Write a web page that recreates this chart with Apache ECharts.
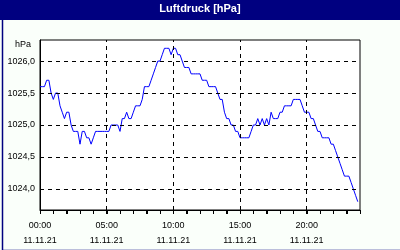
<!DOCTYPE html>
<html>
<head>
<meta charset="utf-8">
<script src="https://cdn.jsdelivr.net/npm/echarts@6/dist/echarts.min.js"></script>
<style>html,body{margin:0;padding:0;background:#fafffa;}#c{width:400px;height:250px;}</style>
</head>
<body>
<div id="c"></div>
<script>
const title = 'Luftdruck [hPa]';
const unitLabel = 'hPa';
const dateLabel = '11.11.21';
const stepMinutes = 10;
const pressure = [
1025.6,1025.6,1025.6,1025.7,1025.7,1025.5,1025.4,1025.5,1025.5,1025.3,
1025.2,1025.1,1025.2,1025.2,1025.0,1024.9,1024.9,1024.9,1024.7,1024.9,
1024.9,1024.8,1024.8,1024.7,1024.8,1024.9,1024.9,1024.9,1024.9,1024.9,
1024.9,1024.9,1025.0,1025.0,1025.0,1025.0,1024.9,1025.1,1025.1,1025.2,
1025.1,1025.1,1025.2,1025.3,1025.3,1025.3,1025.4,1025.6,1025.6,1025.6,
1025.7,1025.8,1025.9,1026.0,1026.0,1026.1,1026.2,1026.2,1026.2,1026.1,
1026.2,1026.2,1026.1,1026.1,1026.0,1025.9,1025.9,1025.9,1025.8,1025.8,
1025.8,1025.8,1025.8,1025.7,1025.7,1025.7,1025.6,1025.6,1025.6,1025.6,
1025.5,1025.4,1025.4,1025.2,1025.1,1025.1,1025.0,1025.0,1024.9,1024.9,
1024.8,1024.8,1024.8,1024.8,1024.8,1024.9,1025.0,1025.0,1025.1,1025.0,
1025.1,1025.0,1025.1,1025.0,1025.2,1025.1,1025.1,1025.1,1025.2,1025.2,
1025.3,1025.3,1025.3,1025.3,1025.4,1025.4,1025.4,1025.4,1025.3,1025.2,
1025.2,1025.2,1025.1,1025.1,1025.0,1024.9,1024.9,1024.8,1024.8,1024.8,
1024.8,1024.7,1024.7,1024.6,1024.5,1024.4,1024.3,1024.2,1024.2,1024.2,
1024.1,1024.0,1023.9,1023.8
];
const yTicks = [1024.0, 1024.5, 1025.0, 1025.5, 1026.0];
const xLabelTicks = [0, 300, 600, 900, 1200];
const hours = 24;

const data = pressure.map((v, i) => [i * stepMinutes, v]);
const fmtTime = m => String(Math.floor(m / 60)).padStart(2, '0') + ':' + String(m % 60).padStart(2, '0');
const dash = { color: '#000', width: 1, type: [4, 4] };
const font = 'Liberation Sans, Arial, sans-serif';
const yMin = 1023.67, yMax = 1026.33;
const G = { left: 40, top: 40, width: 320, height: 170 };

const tickGraphics = [];
for (let h = 0; h <= hours; h++) {
  const x = Math.round(G.left + G.width * h / hours) + 0.5;
  const y = G.top + G.height;
  tickGraphics.push({ type: 'line', silent: true, z: 100, zlevel: 1,
    shape: { x1: x, y1: y, x2: x, y2: y + 4 },
    style: { stroke: '#000000', lineWidth: 1 } });
}

const chart = echarts.init(document.getElementById('c'), null, { renderer: 'canvas' });
chart.setOption({
  animation: false,
  backgroundColor: '#fafffa',
  textStyle: { fontFamily: font },
  graphic: [
    { type: 'rect', left: 0, top: 0, shape: { width: 400, height: 20 }, style: { fill: '#000080' }, silent: true },
    { type: 'rect', left: 0, top: 0, shape: { x: 0.5, y: 0.5, width: 398.5, height: 248 }, style: { fill: null, stroke: '#000080', lineWidth: 1.5 }, silent: true },
    { type: 'text', left: 'center', top: 3, style: { text: title, fill: '#fff', font: 'bold 11px ' + font }, silent: true },
    { type: 'text', right: 369, top: 40, style: { text: unitLabel, fill: '#000', font: '9px ' + font, align: 'right' }, silent: true }
  ].concat(tickGraphics),
  grid: { left: G.left, top: G.top, width: G.width, height: G.height, show: true, backgroundColor: '#fff', borderColor: '#000', borderWidth: 1 },
  xAxis: {
    type: 'value', min: 0, max: 1440, interval: 60,
    axisLine: { show: true, onZero: false, lineStyle: { color: '#000', width: 1 } },
    axisTick: { show: true, length: 4, lineStyle: { color: '#000', width: 1 } },
    axisLabel: {
      margin: 8, color: '#000', fontSize: 9, lineHeight: 15, hideOverlap: false,
      fontFamily: font,
      formatter: v => (xLabelTicks.indexOf(v) >= 0 ? fmtTime(v) + '\n' + dateLabel : '')
    },
    splitLine: { show: false }
  },
  yAxis: {
    type: 'value', min: yMin, max: yMax,
    axisLine: { show: true, lineStyle: { color: '#000' } },
    axisTick: { show: false },
    axisLabel: {
      customValues: yTicks, margin: 5, color: '#000', fontSize: 9,
      fontFamily: font,
      formatter: v => v.toFixed(1).replace('.', ',')
    },
    splitLine: { show: false }
  },
  series: [{
    type: 'line', data: data, showSymbol: false, symbol: 'none',
    lineStyle: { color: '#0000ff', width: 1 },
    z: 3,
    markLine: {
      silent: true, symbol: 'none', animation: false,
      label: { show: false },
      lineStyle: dash,
      data: xLabelTicks.slice(1).map(v => ({ xAxis: v })).concat(yTicks.map(v => ({ yAxis: v })))
    }
  }]
});
</script>
</body>
</html>
